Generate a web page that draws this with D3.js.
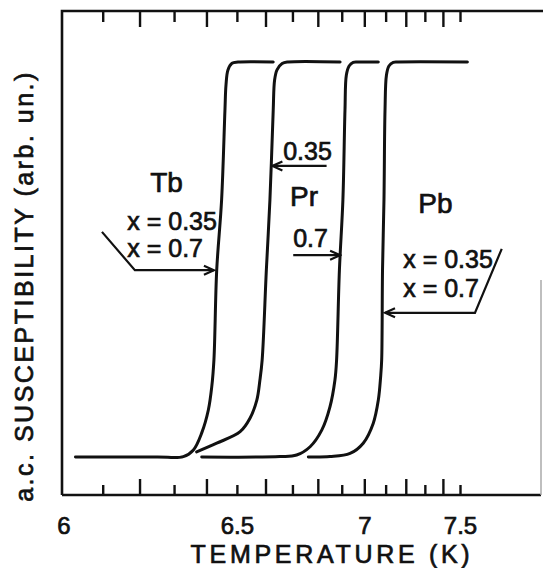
<!DOCTYPE html>
<html>
<head>
<meta charset="utf-8">
<script src="https://cdn.jsdelivr.net/npm/d3@7"></script>
<style>
  html, body { margin: 0; padding: 0; background: #fff; }
  svg { display: block; }
  text { font-family: "Liberation Sans", Arial, sans-serif; fill: #111; stroke: #111; stroke-width: 0.7px; }
</style>
</head>
<body>
<svg id="chart" width="543" height="568"></svg>
<script>
// temperature ticks (K): long ones on even tenths, short ones on odd tenths
const majorTicks = [6.2, 6.4, 6.6, 6.8, 7.0, 7.2, 7.4];
const minorTicks = [6.1, 6.3, 6.5, 6.7, 6.9, 7.1, 7.3, 7.5];
const tickLabels = [6, 6.5, 7, 7.5];

// a.c. susceptibility curves, temperature (K) vs normalised signal
// Tb: x = 0.35 and x = 0.7 fall on one curve
const tbTemp = [6.03, 6.25, 6.328, 6.359, 6.385, 6.406, 6.417, 6.424, 6.433, 6.449, 6.460, 6.4635, 6.470, 6.4835, 6.504, 6.628];
const tbChi  = [0, 0, 0.001, 0.018, 0.061, 0.119, 0.178, 0.246, 0.473, 0.651, 0.878, 0.942, 0.980, 0.997, 1, 1];
// Pr, x = 0.35
const pr35Temp = [6.369, 6.433, 6.511, 6.545, 6.569, 6.580, 6.588, 6.603, 6.616, 6.628, 6.633, 6.642, 6.661, 6.683, 6.893];
const pr35Chi  = [0.013, 0.035, 0.064, 0.098, 0.144, 0.195, 0.246, 0.473, 0.651, 0.878, 0.954, 0.980, 0.996, 1, 1];
// Pr, x = 0.7
const pr7Temp = [6.385, 6.653, 6.716, 6.769, 6.816, 6.850, 6.871, 6.878, 6.890, 6.905, 6.914, 6.920, 6.932, 6.950, 6.971, 7.065];
const pr7Chi  = [0, 0.001, 0.005, 0.026, 0.068, 0.127, 0.195, 0.246, 0.473, 0.651, 0.878, 0.967, 0.990, 0.999, 1, 1];
// Pb: x = 0.35 and x = 0.7 fall on one curve
const pbTemp = [6.762, 6.850, 6.936, 6.995, 7.041, 7.065, 7.076, 7.081, 7.085, 7.092, 7.097, 7.104, 7.116, 7.137, 7.161, 7.545];
const pbChi  = [0, 0.001, 0.009, 0.035, 0.085, 0.144, 0.203, 0.246, 0.473, 0.651, 0.878, 0.967, 0.990, 0.999, 1, 1];

// annotation arrows and labels, in data units
const tbArrow = [[6.098, 0.570], [6.187, 0.473], [6.424, 0.473]];
const pr35Arrow = [[6.836, 0.737], [6.625, 0.737]];
const pr7Arrow = [[6.703, 0.511], [6.893, 0.511]];
const pbArrow = [[7.769, 0.527], [7.592, 0.365], [7.097, 0.365]];
const elementLabels = [["Tb", 6.23, 0.671], ["Pr", 6.691, 0.635], ["Pb", 7.265, 0.617]];
const dopingLabels = [["x = 0.35", 6.166, 0.575], ["x = 0.7", 6.166, 0.506],
                      ["0.35", 6.665, 0.752], ["0.7", 6.703, 0.532],
                      ["x = 0.35", 7.187, 0.478], ["x = 0.7", 7.187, 0.406]];

const frame = {left: 62, right: 541, top: 11, bottom: 495};

const svg = d3.select("svg#chart");

// the original temperature axis is drawn on a T^-3 scale
const x = d3.scalePow().exponent(-3)
    .domain([6, 7.5])
    .range([63.4, 460]);
const y = d3.scaleLinear()
    .domain([0, 1])
    .range([457, 62]);

// frame
svg.append("path")
    .attr("d", `M${frame.left},${frame.bottom} V${frame.top} H543 M${frame.left},${frame.bottom} H${frame.right}`)
    .attr("fill", "none")
    .attr("stroke", "#111")
    .attr("stroke-width", 2.6);
svg.append("line")
    .attr("x1", frame.right).attr("x2", frame.right)
    .attr("y1", 280).attr("y2", frame.bottom)
    .attr("stroke", "#aaa")
    .attr("stroke-width", 1.5);

// inward ticks, top and bottom
function tickAxis(axis, values, size, yPos) {
    const g = svg.append("g")
        .attr("transform", `translate(0,${yPos})`)
        .call(axis(x).tickValues(values).tickSize(size).tickSizeOuter(0).tickFormat(""));
    g.select(".domain").remove();
    g.selectAll(".tick line").attr("stroke", "#111").attr("stroke-width", 2.4);
}
tickAxis(d3.axisTop, majorTicks, 16, frame.bottom);
tickAxis(d3.axisTop, minorTicks, 10, frame.bottom);
tickAxis(d3.axisBottom, majorTicks, 16, frame.top);
tickAxis(d3.axisBottom, minorTicks, 11, frame.top);

// tick labels
const labelAxis = svg.append("g")
    .attr("transform", `translate(0,${frame.bottom})`)
    .call(d3.axisBottom(x).tickValues(tickLabels).tickSize(0).tickPadding(22).tickFormat(d3.format("")));
labelAxis.select(".domain").remove();
labelAxis.attr("font-family", null).attr("font-size", null);
labelAxis.selectAll("text").style("font-size", "24px");

// axis titles
svg.append("text")
    .attr("x", 332)
    .attr("y", 563)
    .attr("text-anchor", "middle")
    .style("font-size", "25px")
    .style("letter-spacing", "3.7px")
    .text("TEMPERATURE (K)");
svg.append("text")
    .attr("transform", "translate(33,286) rotate(-90)")
    .attr("text-anchor", "middle")
    .style("font-size", "25px")
    .style("letter-spacing", "2.5px")
    .text("a.c. SUSCEPTIBILITY (arb. un.)");

// curves
const curve = d3.line()
    .x(d => x(d[0]))
    .y(d => y(d[1]))
    .curve(d3.curveCatmullRom.alpha(0.5));

const series = [
    d3.zip(tbTemp, tbChi),
    d3.zip(pr35Temp, pr35Chi),
    d3.zip(pr7Temp, pr7Chi),
    d3.zip(pbTemp, pbChi)
];

svg.append("g")
    .selectAll("path")
    .data(series)
    .enter()
    .append("path")
    .attr("d", curve)
    .attr("fill", "none")
    .attr("stroke", "#111")
    .attr("stroke-width", 3)
    .attr("stroke-linecap", "round");

// arrowhead
svg.append("defs").append("marker")
    .attr("id", "head")
    .attr("markerUnits", "userSpaceOnUse")
    .attr("viewBox", "-12 -6 14 12")
    .attr("refX", 0).attr("refY", 0)
    .attr("markerWidth", 14).attr("markerHeight", 12)
    .attr("orient", "auto")
    .append("path")
    .attr("d", "M-10,-4.5 L0,0 L-10,4.5")
    .attr("fill", "none")
    .attr("stroke", "#111")
    .attr("stroke-width", 2.2);

const straight = d3.line()
    .x(d => x(d[0]))
    .y(d => y(d[1]));

svg.append("g")
    .selectAll("path")
    .data([tbArrow, pr35Arrow, pr7Arrow, pbArrow])
    .enter()
    .append("path")
    .attr("d", straight)
    .attr("fill", "none")
    .attr("stroke", "#111")
    .attr("stroke-width", 2.2)
    .attr("marker-end", "url(#head)");

// labels
svg.append("g")
    .selectAll("text")
    .data(elementLabels)
    .enter()
    .append("text")
    .attr("x", d => x(d[1]))
    .attr("y", d => y(d[2]))
    .style("font-size", "28px")
    .text(d => d[0]);

svg.append("g")
    .selectAll("text")
    .data(dopingLabels)
    .enter()
    .append("text")
    .attr("x", d => x(d[1]))
    .attr("y", d => y(d[2]))
    .style("font-size", "25px")
    .text(d => d[0]);
</script>
</body>
</html>
